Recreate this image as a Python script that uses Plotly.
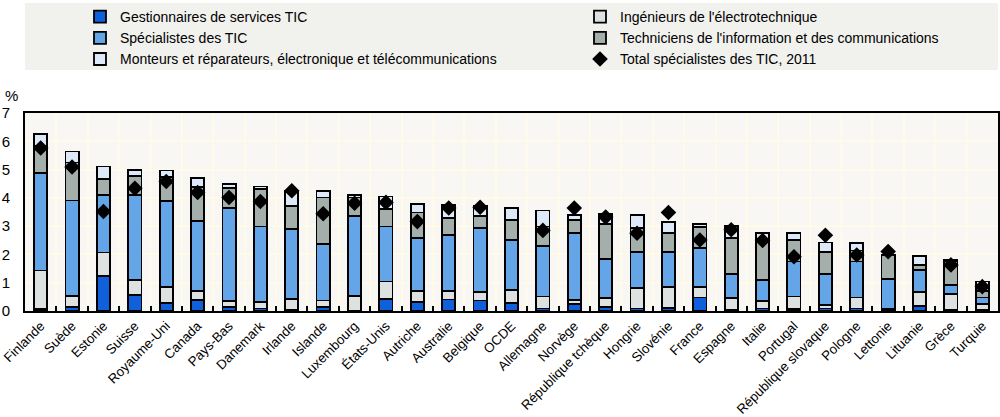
import plotly.graph_objects as go

countries = ["Finlande", "Suède", "Estonie", "Suisse", "Royaume-Uni", "Canada", "Pays-Bas",
             "Danemark", "Irlande", "Islande", "Luxembourg", "États-Unis", "Autriche",
             "Australie", "Belgique", "OCDE", "Allemagne", "Norvège", "République tchèque",
             "Hongrie", "Slovénie", "France", "Espagne", "Italie", "Portugal",
             "République slovaque", "Pologne", "Lettonie", "Lituanie", "Grèce", "Turquie"]

gestionnaires = [0.08, 0.13, 1.24, 0.57, 0.28, 0.40, 0.15, 0.09, 0.03, 0.15, 0.00, 0.43, 0.33,
                 0.41, 0.37, 0.27, 0.09, 0.25, 0.13, 0.09, 0.12, 0.48, 0.05, 0.09, 0.06,
                 0.09, 0.09, 0.06, 0.19, 0.03, 0.05]
ingenieurs = [1.35, 0.40, 0.83, 0.53, 0.58, 0.32, 0.20, 0.24, 0.40, 0.22, 0.53, 0.61, 0.38,
              0.30, 0.31, 0.47, 0.42, 0.14, 0.34, 0.71, 0.72, 0.36, 0.40, 0.26, 0.45,
              0.12, 0.39, 0.02, 0.47, 0.56, 0.19]
specialistes = [3.45, 3.38, 2.04, 3.01, 3.04, 2.47, 3.29, 2.66, 2.47, 2.00, 2.83, 1.95, 1.86,
                1.98, 2.25, 1.77, 1.79, 2.38, 1.37, 1.28, 1.26, 1.40, 0.85, 0.75, 1.24,
                1.09, 1.27, 1.04, 0.79, 0.33, 0.24]
techniciens = [0.95, 1.34, 0.55, 0.65, 0.85, 1.19, 0.71, 1.32, 0.82, 1.64, 0.65, 0.61, 0.91,
               0.59, 0.43, 0.71, 0.69, 0.45, 1.24, 0.85, 0.67, 0.72, 1.27, 1.44, 0.76,
               0.80, 0.39, 0.86, 0.18, 0.83, 0.24]
monteurs = [0.43, 0.39, 0.45, 0.23, 0.22, 0.32, 0.15, 0.09, 0.53, 0.24, 0.10, 0.45, 0.30,
            0.47, 0.37, 0.42, 0.56, 0.18, 0.34, 0.45, 0.39, 0.11, 0.44, 0.21, 0.24,
            0.32, 0.26, 0.02, 0.32, 0.06, 0.32]
total_2011 = [5.76, 5.09, 3.52, 4.34, 4.58, 4.19, 4.01, 3.87, 4.25, 3.44, 3.81, 3.84, 3.16,
              3.64, 3.67, None, 2.85, 3.64, 3.32, 2.75, 3.48, 2.51, 2.87, 2.49, 1.92,
              2.68, 1.98, 2.10, None, 1.63, 0.86]

FONT = "Liberation Sans, Arial, sans-serif"

series = [
    ("Gestionnaires de services TIC", gestionnaires, "#1060dc", "legend", 1),
    ("Ingénieurs de l'électrotechnique", ingenieurs, "#dde1df", "legend2", 1),
    ("Spécialistes des TIC", specialistes, "#64a5e8", "legend", 2),
    ("Techniciens de l'information et des communications", techniciens, "#a4aeab", "legend2", 2),
    ("Monteurs et réparateurs, électronique et télécommunications", monteurs, "#dde9f8", "legend", 3),
]

fig = go.Figure()
for name, vals, color, leg, rank in series:
    fig.add_trace(go.Bar(
        x=countries, y=vals, name=name, legend=leg, legendrank=rank,
        marker=dict(color=color, line=dict(color="black", width=1.8)),
        width=0.42,
    ))

fig.add_trace(go.Scatter(
    x=countries, y=total_2011, name="Total spécialistes des TIC, 2011", mode="markers",
    legend="legend2", legendrank=3,
    marker=dict(symbol="diamond", color="black", size=12),
))

plot_l, plot_r, plot_t, plot_b = 25, 998, 113, 311
W, H = 1000, 417


def px_x(p):
    return (p - plot_l) / (plot_r - plot_l)


def px_y(p):
    return (plot_b - p) / (plot_b - plot_t)


leg_common = dict(
    orientation="v", traceorder="normal", bgcolor="rgba(0,0,0,0)",
    font=dict(family=FONT, size=14, color="black"),
    xanchor="left", yanchor="top", tracegroupgap=0,
    xref="container", yref="container",
)

fig.update_layout(
    width=W, height=H,
    margin=dict(l=plot_l, r=W - plot_r, t=plot_t, b=H - plot_b, autoexpand=False),
    barmode="stack",
    paper_bgcolor="white",
    plot_bgcolor="#f8f7f4",
    font=dict(family=FONT, size=14, color="black"),
    legend=dict(x=80 / W, y=1 - 1 / H, **leg_common),
    legend2=dict(x=580 / W, y=1 - 1 / H, **leg_common),
    xaxis=dict(
        type="category", tickangle=-45, tickson="boundaries",
        ticks="inside", ticklen=5, tickwidth=1.5, tickcolor="black",
        showgrid=True, gridcolor="#fffbe8", gridwidth=1.5,
        showline=True, linecolor="black", linewidth=2, mirror=True,
        tickfont=dict(family=FONT, size=13.3),
        range=[-0.5, len(countries) - 0.5],
    ),
    yaxis=dict(
        range=[0, 7], dtick=1, ticks="", showgrid=True, gridcolor="#fffbe8", gridwidth=1.5,
        showline=True, linecolor="black", linewidth=2, mirror=True,
        tickfont=dict(family=FONT, size=15), ticklabelstandoff=10, zeroline=False,
    ),
    shapes=[dict(type="rect", xref="paper", yref="paper",
                 x0=0, x1=1, y0=px_y(70), y1=px_y(3),
                 fillcolor="#f1f1ee", line=dict(width=0), layer="below")],
    annotations=[dict(text="%", xref="paper", yref="paper", x=px_x(3), y=px_y(95),
                      xanchor="left", yanchor="middle", showarrow=False,
                      font=dict(family=FONT, size=15, color="black"))],
)

fig.write_html("out.html", config={"displayModeBar": False},
               post_script="document.body.style.margin='0px';")
